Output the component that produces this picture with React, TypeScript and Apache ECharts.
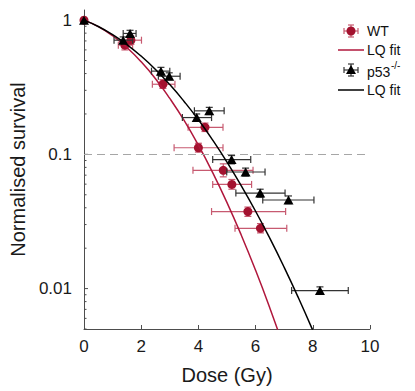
import React, { useEffect, useRef } from "react";
import * as echarts from "echarts";

// WT data (dose in Gy, normalised survival)
const wtDose = [0, 1.43, 1.64, 2.76, 4.0, 4.23, 4.87, 5.17, 5.73, 6.17];
const wtSurv = [1, 0.651, 0.709, 0.333, 0.112, 0.159, 0.076, 0.0597, 0.0375, 0.0281];
const wtDoseLow = [0, 1.2, 1.37, 2.39, 3.15, 3.64, 3.81, 4.5, 4.46, 5.28];
const wtDoseHigh = [0, 1.7, 2.01, 3.18, 4.86, 4.86, 5.91, 5.86, 7.05, 7.09];
const wtSurvLow = [1, 0.6, 0.66, 0.31, 0.104, 0.148, 0.068, 0.055, 0.0345, 0.026];
const wtSurvHigh = [1, 0.7, 0.76, 0.36, 0.121, 0.171, 0.085, 0.065, 0.0405, 0.0305];

// p53 -/- data
const p53Dose = [0, 1.37, 1.61, 2.69, 2.98, 3.94, 4.38, 5.16, 5.65, 6.16, 7.15, 8.25];
const p53Surv = [1, 0.709, 0.796, 0.417, 0.382, 0.188, 0.211, 0.0914, 0.0739, 0.0515, 0.0457, 0.00967];
const p53DoseLow = [0, 1.05, 1.37, 2.36, 2.6, 3.44, 3.86, 4.5, 4.99, 5.31, 6.25, 7.26];
const p53DoseHigh = [0, 1.7, 1.82, 3.0, 3.36, 4.46, 4.9, 5.83, 6.33, 7.03, 8.04, 9.24];
const p53SurvLow = [1, 0.67, 0.75, 0.39, 0.36, 0.176, 0.198, 0.085, 0.069, 0.048, 0.043, 0.0091];
const p53SurvHigh = [1, 0.75, 0.84, 0.445, 0.405, 0.2, 0.224, 0.098, 0.079, 0.055, 0.049, 0.0103];

// LQ fit curves
const wtFitDose = [0, 0.5, 1, 1.5, 2, 2.5, 3, 3.5, 4, 4.5, 5, 5.5, 6, 6.5, 7];
const wtFitSurv = [1, 0.894, 0.765, 0.625, 0.489, 0.366, 0.261, 0.179, 0.117, 0.0731, 0.0437, 0.025, 0.01368, 0.00715, 0.00358];
const p53FitDose = [0, 0.5, 1, 1.5, 2, 2.5, 3, 3.5, 4, 4.5, 5, 5.5, 6, 6.5, 7, 7.5, 8, 8.5];
const p53FitSurv = [1, 0.896, 0.779, 0.658, 0.539, 0.429, 0.331, 0.248, 0.181, 0.1277, 0.0876, 0.0583, 0.0377, 0.02364, 0.0144, 0.00851, 0.00488, 0.00272];

// axis ticks
const xTicks = [0, 2, 4, 6, 8, 10];
const yMajorTicks = [0.01, 0.1, 1];
const yMinorTicks = [0.005, 0.006, 0.007, 0.008, 0.009, 0.02, 0.03, 0.04, 0.05, 0.06, 0.07, 0.08, 0.09, 0.2, 0.3, 0.4, 0.5, 0.6, 0.7, 0.8, 0.9];
const refLine = 0.1;

const RED = "#a3122f";
const RED_BAR = "#c75a70";
const RED_LINE = "#b0173c";
const BLACK = "#000000";
const BLACK_BAR = "#333333";
const FONT = "Liberation Sans";

function errRender(color: string) {
  return (params: any, api: any) => {
    const x = api.value(0), y = api.value(1);
    const xl = api.value(2), xh = api.value(3), yl = api.value(4), yh = api.value(5);
    const children: any[] = [];
    const style = { stroke: color, lineWidth: 1.2 };
    const c = 3.5;
    if (xh > xl) {
      const pL = api.coord([xl, y]);
      const pH = api.coord([xh, y]);
      children.push({ type: "line", shape: { x1: pL[0], y1: pL[1], x2: pH[0], y2: pH[1] }, style });
      children.push({ type: "line", shape: { x1: pL[0], y1: pL[1] - c, x2: pL[0], y2: pL[1] + c }, style });
      children.push({ type: "line", shape: { x1: pH[0], y1: pH[1] - c, x2: pH[0], y2: pH[1] + c }, style });
    }
    if (yh > yl) {
      const pB = api.coord([x, yl]);
      const pT = api.coord([x, yh]);
      children.push({ type: "line", shape: { x1: pB[0], y1: pB[1], x2: pT[0], y2: pT[1] }, style });
      children.push({ type: "line", shape: { x1: pB[0] - c, y1: pB[1], x2: pB[0] + c, y2: pB[1] }, style });
      children.push({ type: "line", shape: { x1: pT[0] - c, y1: pT[1], x2: pT[0] + c, y2: pT[1] }, style });
    }
    return { type: "group", children };
  };
}

function tickRender(params: any, api: any) {
  const v = api.value(1);
  const major = api.value(2);
  const p = api.coord([0, v]);
  const len = major ? 4 : 2.5;
  return {
    type: "line",
    shape: { x1: p[0], y1: p[1], x2: p[0] + len, y2: p[1] },
    style: { stroke: "#4d4d4d", lineWidth: 1 },
  };
}

function legendErr(cx: number, cy: number, color: string) {
  const s = { stroke: color, lineWidth: 1.2 };
  const h = 7, c = 3;
  return [
    { type: "line", shape: { x1: cx - h, y1: cy, x2: cx + h, y2: cy }, style: s },
    { type: "line", shape: { x1: cx - h, y1: cy - c, x2: cx - h, y2: cy + c }, style: s },
    { type: "line", shape: { x1: cx + h, y1: cy - c, x2: cx + h, y2: cy + c }, style: s },
    { type: "line", shape: { x1: cx, y1: cy - 6, x2: cx, y2: cy + 6 }, style: s },
    { type: "line", shape: { x1: cx - c, y1: cy - 6, x2: cx + c, y2: cy - 6 }, style: s },
    { type: "line", shape: { x1: cx - c, y1: cy + 6, x2: cx + c, y2: cy + 6 }, style: s },
  ];
}

export default function App() {
  const ref = useRef<HTMLDivElement>(null);
  useEffect(() => {
    if (!ref.current) return;
    const chart = echarts.init(ref.current, undefined, { renderer: "svg" });
    const wtRows = wtDose.map((d, i) => [d, wtSurv[i], wtDoseLow[i], wtDoseHigh[i], wtSurvLow[i], wtSurvHigh[i]]);
    const p53Rows = p53Dose.map((d, i) => [d, p53Surv[i], p53DoseLow[i], p53DoseHigh[i], p53SurvLow[i], p53SurvHigh[i]]);
    const tickRows = [
      ...yMajorTicks.map((v) => [0, v, 1]),
      ...yMinorTicks.map((v) => [0, v, 0]),
    ];
    const textStyle = { fontFamily: FONT, fontSize: 14, fill: "#111" };
    chart.setOption({
      animation: false,
      textStyle: { fontFamily: FONT },
      grid: { left: 84, right: 45, top: 10, bottom: 62 },
      xAxis: {
        type: "value",
        min: 0,
        max: 10,
        interval: 2,
        name: "Dose (Gy)",
        nameLocation: "middle",
        nameGap: 36,
        nameTextStyle: { fontSize: 20, color: "#1a1a1a", fontFamily: FONT },
        axisLine: { lineStyle: { color: "#4d4d4d", width: 1 } },
        axisTick: { show: true, inside: true, length: 4, lineStyle: { color: "#4d4d4d" } },
        axisLabel: {
          fontSize: 17,
          color: "#1a1a1a",
          margin: 9,
          fontFamily: FONT,
          formatter: (v: number) => (xTicks.includes(v) ? String(v) : ""),
        },
        splitLine: { show: false },
      },
      yAxis: {
        type: "log",
        logBase: 10,
        min: 0.005,
        max: 1.19,
        name: "Normalised survival",
        nameLocation: "middle",
        nameGap: 52,
        nameTextStyle: { fontSize: 20, color: "#1a1a1a", fontFamily: FONT },
        axisLine: { show: true, lineStyle: { color: "#4d4d4d", width: 1 } },
        axisTick: { show: false },
        axisLabel: {
          fontSize: 17,
          color: "#1a1a1a",
          margin: 12,
          fontFamily: FONT,
          formatter: (v: number) => {
            const m = yMajorTicks.find((t) => Math.abs(v - t) / t < 1e-6);
            return m !== undefined ? String(m) : "";
          },
        },
        splitLine: { show: false },
      },
      series: [
        {
          type: "custom",
          name: "ticks",
          data: tickRows,
          renderItem: tickRender,
          encode: { x: 0, y: 1 },
          silent: true,
          clip: false,
          z: 1,
        },
        {
          type: "line",
          name: "ref",
          data: [],
          markLine: {
            silent: true,
            symbol: "none",
            label: { show: false },
            lineStyle: { color: "#a6a6a6", type: [8, 5], width: 1 },
            data: [{ yAxis: refLine }],
          },
        },
        {
          type: "custom",
          name: "WT err",
          data: wtRows,
          renderItem: errRender(RED_BAR),
          encode: { x: 0, y: 1 },
          z: 2,
        },
        {
          type: "scatter",
          name: "WT",
          data: wtRows.map((r) => [r[0], r[1]]),
          symbol: "circle",
          symbolSize: 9,
          itemStyle: { color: RED, opacity: 1 },
          z: 3,
        },
        {
          type: "line",
          name: "WT fit",
          data: wtFitDose.map((d, i) => [d, wtFitSurv[i]]),
          showSymbol: false,
          smooth: true,
          lineStyle: { color: RED_LINE, width: 1.5 },
          z: 4,
        },
        {
          type: "custom",
          name: "p53 err",
          data: p53Rows,
          renderItem: errRender(BLACK_BAR),
          encode: { x: 0, y: 1 },
          z: 5,
        },
        {
          type: "scatter",
          name: "p53",
          data: p53Rows.map((r) => [r[0], r[1]]),
          symbol: "triangle",
          symbolSize: [10, 9],
          itemStyle: { color: BLACK, opacity: 1 },
          z: 6,
        },
        {
          type: "line",
          name: "p53 fit",
          data: p53FitDose.map((d, i) => [d, p53FitSurv[i]]),
          showSymbol: false,
          smooth: true,
          lineStyle: { color: BLACK, width: 1.5 },
          z: 7,
        },
      ],
      graphic: [
        ...legendErr(351, 31, RED_BAR),
        { type: "circle", shape: { cx: 351, cy: 31, r: 4.5 }, style: { fill: RED } },
        { type: "text", x: 367, y: 31, style: { ...textStyle, text: "WT", verticalAlign: "middle" } },
        { type: "line", shape: { x1: 338, y1: 50, x2: 364, y2: 50 }, style: { stroke: RED_LINE, lineWidth: 1.5 } },
        { type: "text", x: 367, y: 50, style: { ...textStyle, text: "LQ fit", verticalAlign: "middle" } },
        ...legendErr(351, 70, BLACK_BAR),
        { type: "polygon", shape: { points: [[346, 74], [356, 74], [351, 65]] }, style: { fill: BLACK } },
        { type: "text", x: 367, y: 72, style: { ...textStyle, text: "p53", verticalAlign: "middle" } },
        { type: "text", x: 391, y: 65, style: { ...textStyle, fontSize: 10, text: "-/-", verticalAlign: "middle" } },
        { type: "line", shape: { x1: 338, y1: 90, x2: 364, y2: 90 }, style: { stroke: BLACK, lineWidth: 1.5 } },
        { type: "text", x: 367, y: 90, style: { ...textStyle, text: "LQ fit", verticalAlign: "middle" } },
      ],
    });
    return () => chart.dispose();
  }, []);
  return <div ref={ref} style={{ width: 415, height: 391, position: "absolute", left: 0, top: 0 }} />;
}
